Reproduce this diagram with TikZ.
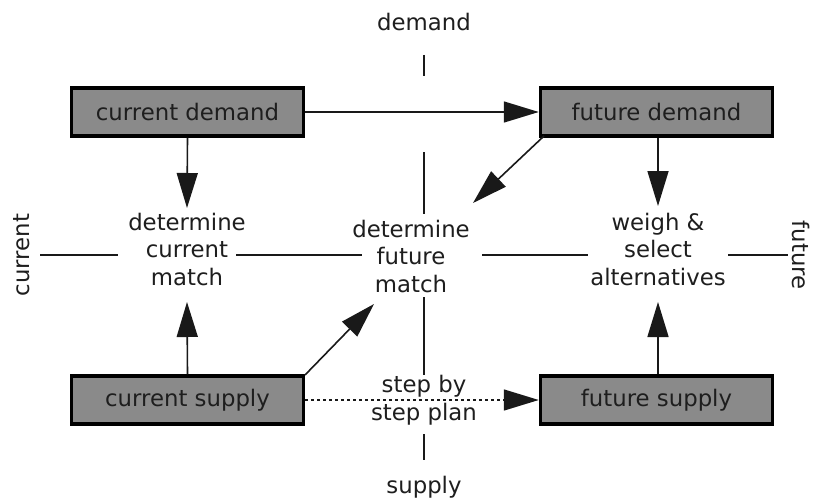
\documentclass[tikz,border=0pt]{standalone}
\usepackage{fontspec}
\setmainfont{DejaVu Sans}
\usetikzlibrary{arrows.meta}
\definecolor{boxgray}{RGB}{138,138,138}
\definecolor{txt}{RGB}{30,30,30}
\definecolor{ln}{RGB}{25,25,25}
\begin{document}
\begin{tikzpicture}[x=1pt,y=-1pt,
  every node/.style={font=\fontsize{22.8}{27.5}\selectfont, text=txt},
  box/.style={draw=black, line width=3.5pt, fill=boxgray, minimum width=232pt, minimum height=48pt, inner sep=0pt},
  lbl/.style={align=center, inner sep=0pt},
  axis/.style={draw=ln, line width=1.6pt},
  arr/.style={draw=ln, line width=1.6pt, -{Triangle[length=35pt,width=21pt]}},
  darr/.style={arr, dash pattern=on 3pt off 3pt}]
\useasboundingbox (0,0) rectangle (813,503);
\fill[white] (0,0) rectangle (813,503);
% axis labels
\node[lbl] (dem) at (424,22) {demand};
\node[lbl] (sup) at (424,487) {supply};
\node[lbl, rotate=90] (cur) at (22,255) {current};
\node[lbl, rotate=-90] (fut) at (801,255) {future};
% axis coordinates
\coordinate (v1a) at (424,55); \coordinate (v1b) at (424,76);
\coordinate (v2a) at (424,152); \coordinate (v2b) at (424,214);
\coordinate (v3a) at (424,297); \coordinate (v3b) at (424,375);
\coordinate (v4a) at (424,434); \coordinate (v4b) at (424,460);
\coordinate (h1a) at (40,255); \coordinate (h1b) at (118,255);
\coordinate (h2a) at (236,255); \coordinate (h2b) at (362,255);
\coordinate (h3a) at (482,255); \coordinate (h3b) at (588,255);
\coordinate (h4a) at (728,255); \coordinate (h4b) at (788,255);
\draw[axis] (v1a) -- (v1b);
\draw[axis] (v2a) -- (v2b);
\draw[axis] (v3a) -- (v3b);
\draw[axis] (v4a) -- (v4b);
\draw[axis] (h1a) -- (h1b);
\draw[axis] (h2a) -- (h2b);
\draw[axis] (h3a) -- (h3b);
\draw[axis] (h4a) -- (h4b);
% boxes
\node[box] (cd) at (187.5,112) {current demand};
\node[box] (fd) at (656.5,112) {future demand};
\node[box] (cs) at (187.5,400) {current supply};
\node[box] (fs) at (656.5,400) {future supply};
% middle labels
\node[lbl] (cm) at (187,249) {determine\\current\\match};
\node[lbl] (fm) at (411,256) {determine\\future\\match};
\node[lbl] (ws) at (658,249) {weigh \&\\select\\alternatives};
\node[lbl] (sp) at (424,400) {step by\\step plan};
% arrow end coordinates
\coordinate (t1) at (187,208);
\coordinate (t2) at (187,302);
\coordinate (t3) at (658,206);
\coordinate (t4) at (658,302);
\coordinate (t5) at (473,203);
\coordinate (t6) at (374,304);
\coordinate (fdc) at (544,136);
\coordinate (csc) at (305,375);
% arrows
\draw[arr] (cd.south) -- (t1);
\draw[arr] (cs.north) -- (t2);
\draw[arr] (fd.south -| t3) -- (t3);
\draw[arr] (fs.north -| t4) -- (t4);
\draw[arr] (cd.east) -- (fd.west);
\draw[arr] (fdc) -- (t5);
\draw[arr] (csc) -- (t6);
\draw[darr] (cs.east) -- (fs.west);
\end{tikzpicture}
\end{document}
